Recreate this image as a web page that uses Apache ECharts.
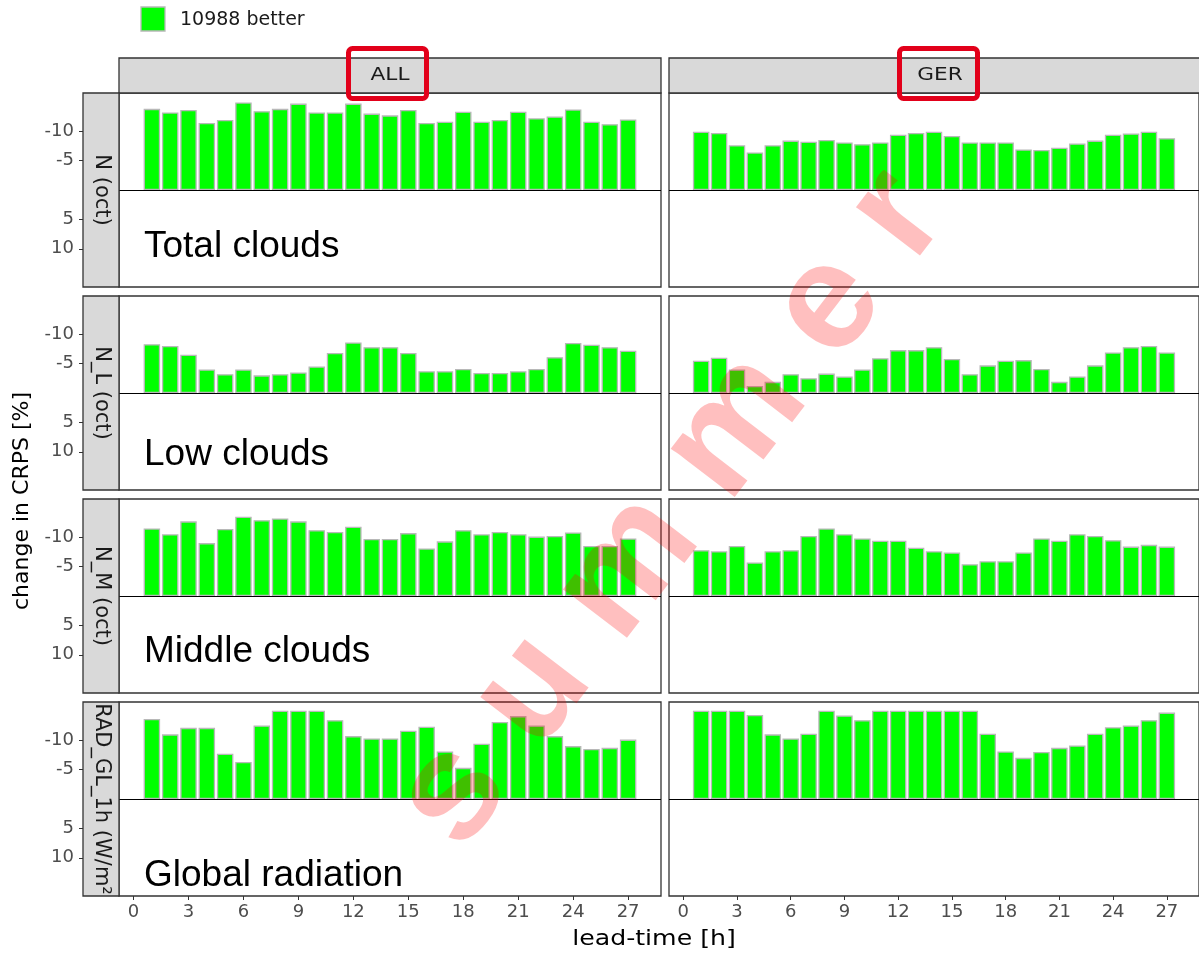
<!DOCTYPE html>
<html>
<head>
<meta charset="utf-8">
<script src="https://cdn.jsdelivr.net/npm/echarts@6/dist/echarts.min.js"></script>
<style>
  html, body { margin: 0; padding: 0; background: #ffffff; }
  #chart { width: 1199px; height: 954px; }
</style>
</head>
<body>
<div id="chart"></div>
<script>
// Lead times (hours) on the x axis
const leadTimes = [1, 2, 3, 4, 5, 6, 7, 8, 9, 10, 11, 12, 13, 14, 15, 16, 17, 18, 19, 20, 21, 22, 23, 24, 25, 26, 27];
const regions = ['ALL', 'GER'];
const variables = ['N (oct)', 'N_L (oct)', 'N_M (oct)', 'RAD_GL_1h (W/m²)'];
const variableNotes = ['Total clouds', 'Low clouds', 'Middle clouds', 'Global radiation'];
const legendLabel = '10988 better';

// Change in CRPS [%] per lead time (negative = improvement), clipped at -15
const nAll   = [-13.8, -13.2, -13.6, -11.4, -11.9, -14.9, -13.4, -13.8, -14.7, -13.2, -13.2, -14.7, -13.0, -12.7, -13.6, -11.4, -11.6, -13.3, -11.6, -11.9, -13.3, -12.2, -12.5, -13.7, -11.6, -11.2, -12.0];
const nGer   = [-9.9, -9.7, -7.6, -6.4, -7.6, -8.4, -8.2, -8.5, -8.1, -7.8, -8.1, -9.4, -9.7, -9.9, -9.2, -8.1, -8.1, -8.1, -6.9, -6.8, -7.2, -7.9, -8.4, -9.4, -9.6, -9.9, -8.8];
const nlAll  = [-8.3, -8.0, -6.5, -4.0, -3.2, -4.0, -3.0, -3.2, -3.5, -4.5, -6.8, -8.6, -7.8, -7.8, -6.8, -3.7, -3.7, -4.1, -3.4, -3.4, -3.7, -4.1, -6.1, -8.5, -8.2, -7.8, -7.2];
const nlGer  = [-5.5, -6.0, -4.0, -1.2, -1.9, -3.2, -2.5, -3.3, -2.8, -4.0, -5.9, -7.3, -7.3, -7.8, -5.8, -3.2, -4.7, -5.5, -5.6, -4.1, -1.9, -2.8, -4.7, -6.9, -7.8, -8.0, -6.9];
const nmAll  = [-11.5, -10.5, -12.7, -9.0, -11.4, -13.5, -12.9, -13.2, -12.7, -11.2, -10.9, -11.8, -9.7, -9.7, -10.7, -8.1, -9.3, -11.2, -10.5, -10.9, -10.5, -10.1, -10.2, -10.8, -8.5, -8.5, -9.8];
const nmGer  = [-7.8, -7.6, -8.5, -5.7, -7.6, -7.8, -10.2, -11.5, -10.5, -9.8, -9.4, -9.4, -8.2, -7.6, -7.4, -5.4, -5.9, -5.9, -7.4, -9.8, -9.4, -10.5, -10.2, -9.5, -8.4, -8.7, -8.4];
const radAll = [-13.6, -11.0, -12.1, -12.1, -7.7, -6.3, -12.5, -15.0, -15.0, -15.0, -13.4, -10.7, -10.3, -10.3, -11.6, -12.3, -8.1, -5.3, -9.4, -13.1, -14.1, -12.5, -10.7, -9.0, -8.5, -8.7, -10.1];
const radGer = [-15.0, -15.0, -15.0, -14.3, -11.0, -10.3, -11.1, -15.0, -14.2, -13.4, -15.0, -15.0, -15.0, -15.0, -15.0, -15.0, -11.1, -8.1, -7.0, -8.0, -8.7, -9.1, -11.1, -12.2, -12.5, -13.4, -14.7];

const xTicks = [0, 3, 6, 9, 12, 15, 18, 21, 24, 27];
const yTicks = [-10, -5, 5, 10];

// rows = variables, columns = regions
const panelValues = [
  [nAll, nGer],
  [nlAll, nlGer],
  [nmAll, nmGer],
  [radAll, radGer]
];

// ---- layout ----
const GG_FONT = 'DejaVu Sans';
const X_MIN = -0.795, X_MAX = 28.795;   // bar extent 0.55..27.45 plus 5% padding
const Y_LIM = 16.5;                      // -15..15 plus 5% padding
const COL_LEFT = [119, 669];
const PANEL_W = 542;
const ROW_TOP = [93, 296, 499, 702];
const PANEL_H = 194;
const STRIP_W = 36;   // left strip width
const STRIP_H = 35;   // top strip height
const BAR_W = PANEL_W / (X_MAX - X_MIN) * 0.9;
const WIDE = 1.2;     // horizontal stretch of the plot text

const grids = [], xAxes = [], yAxes = [], series = [];
let k = 0;
for (let r = 0; r < variables.length; r++) {
  for (let c = 0; c < regions.length; c++) {
    const bottomRow = r === variables.length - 1;
    const firstCol = c === 0;
    grids.push({
      left: COL_LEFT[c], top: ROW_TOP[r], width: PANEL_W, height: PANEL_H,
      show: true, backgroundColor: '#ffffff', borderColor: '#333333', borderWidth: 1.3,
      containLabel: false
    });
    xAxes.push({
      type: 'value', gridIndex: k, min: X_MIN, max: X_MAX, position: 'bottom',
      axisLine: { show: false, onZero: false },
      splitLine: { show: false },
      axisTick: { show: bottomRow, customValues: xTicks, length: 4, lineStyle: { color: '#333333', width: 1 } },
      axisLabel: { show: bottomRow, customValues: xTicks, margin: 7, color: '#4d4d4d', fontSize: 18, fontFamily: GG_FONT }
    });
    yAxes.push({
      type: 'value', gridIndex: k, min: -Y_LIM, max: Y_LIM, inverse: true, position: 'left',
      offset: firstCol ? STRIP_W : 0,
      axisLine: { show: false, onZero: false },
      splitLine: { show: false },
      axisTick: { show: firstCol, customValues: yTicks, length: 4, lineStyle: { color: '#333333', width: 1 } },
      axisLabel: { show: firstCol, customValues: yTicks, margin: 9, color: '#4d4d4d', fontSize: 18, fontFamily: GG_FONT }
    });
    const vals = panelValues[r][c];
    series.push({
      name: legendLabel,
      type: 'bar',
      xAxisIndex: k, yAxisIndex: k,
      data: leadTimes.map((t, j) => [t, vals[j]]),
      barWidth: BAR_W,
      itemStyle: { color: '#00ff00', borderColor: '#b8b8b8', borderWidth: 1.3 },
      silent: true,
      markLine: {
        silent: true, symbol: ['none', 'none'], label: { show: false },
        lineStyle: { color: '#000000', width: 1, type: 'solid' },
        data: [{ yAxis: 0 }]
      }
    });
    k++;
  }
}

const graphics = [];
// top strips
regions.forEach((name, c) => {
  graphics.push({
    type: 'rect', z: 10,
    shape: { x: COL_LEFT[c], y: ROW_TOP[0] - STRIP_H, width: PANEL_W, height: STRIP_H },
    style: { fill: '#d9d9d9', stroke: '#333333', lineWidth: 1.3 }
  });
  graphics.push({
    type: 'text', z: 11,
    x: COL_LEFT[c] + PANEL_W / 2, y: ROW_TOP[0] - STRIP_H / 2, scaleX: WIDE,
    style: { text: name, fill: '#1a1a1a', font: '18px "' + GG_FONT + '"', align: 'center', verticalAlign: 'middle' }
  });
});
// left strips
variables.forEach((name, r) => {
  graphics.push({
    type: 'rect', z: 10,
    shape: { x: COL_LEFT[0] - STRIP_W, y: ROW_TOP[r], width: STRIP_W, height: PANEL_H },
    style: { fill: '#d9d9d9', stroke: '#333333', lineWidth: 1.3 }
  });
  graphics.push({
    type: 'text', z: 11,
    x: COL_LEFT[0] - STRIP_W / 2, y: ROW_TOP[r] + PANEL_H / 2,
    rotation: -Math.PI / 2,
    style: {
      text: name, fill: '#1a1a1a', font: '21px "' + GG_FONT + '"',
      align: 'center', verticalAlign: 'middle',
      width: PANEL_H, overflow: 'truncate', ellipsis: ''
    }
  });
});
// variable notes inside the ALL panels
const notePos = [246.5, 455, 651.5, 875.5];
variableNotes.forEach((note, r) => {
  graphics.push({
    type: 'text', z: 12, x: 144, y: notePos[r],
    style: { text: note, fill: '#000000', font: '37px "Liberation Sans", Arial, sans-serif', align: 'left', verticalAlign: 'middle' }
  });
});
// legend
graphics.push({
  type: 'rect', z: 12,
  shape: { x: 141, y: 7, width: 24, height: 24 },
  style: { fill: '#00ff00', stroke: '#b8b8b8', lineWidth: 1.3 }
});
graphics.push({
  type: 'text', z: 12, x: 180, y: 20,
  style: { text: legendLabel, fill: '#1a1a1a', font: '19px "' + GG_FONT + '"', align: 'left', verticalAlign: 'middle' }
});
// axis titles
graphics.push({
  type: 'text', z: 12, x: 654, y: 940, scaleX: WIDE,
  style: { text: 'lead-time [h]', fill: '#000000', font: '21px "' + GG_FONT + '"', align: 'center', verticalAlign: 'middle' }
});
graphics.push({
  type: 'text', z: 12, x: 22, y: 501, rotation: Math.PI / 2,
  style: { text: 'change in CRPS [%]', fill: '#000000', font: '22px "' + GG_FONT + '"', align: 'center', verticalAlign: 'middle' }
});
// highlight boxes round the region labels
[[348.5, 48.5], [899.5, 48.5]].forEach(([bx, by]) => {
  graphics.push({
    type: 'rect', z: 20,
    shape: { x: bx, y: by, width: 78, height: 50, r: 4 },
    style: { fill: 'none', stroke: '#e2001a', lineWidth: 5 }
  });
});
// season watermark
graphics.push({
  type: 'text', z: 30, x: 672, y: 510, rotation: 52.5 * Math.PI / 180,
  style: {
    text: 's u m m e r', fill: 'rgba(255,0,0,0.25)',
    font: 'bold 152px "Liberation Sans", Arial, sans-serif',
    align: 'center', verticalAlign: 'middle'
  }
});

const chart = echarts.init(document.getElementById('chart'), null, { renderer: 'canvas' });
chart.setOption({
  animation: false,
  backgroundColor: '#ffffff',
  grid: grids,
  xAxis: xAxes,
  yAxis: yAxes,
  series: series,
  graphic: graphics
});
</script>
</body>
</html>
